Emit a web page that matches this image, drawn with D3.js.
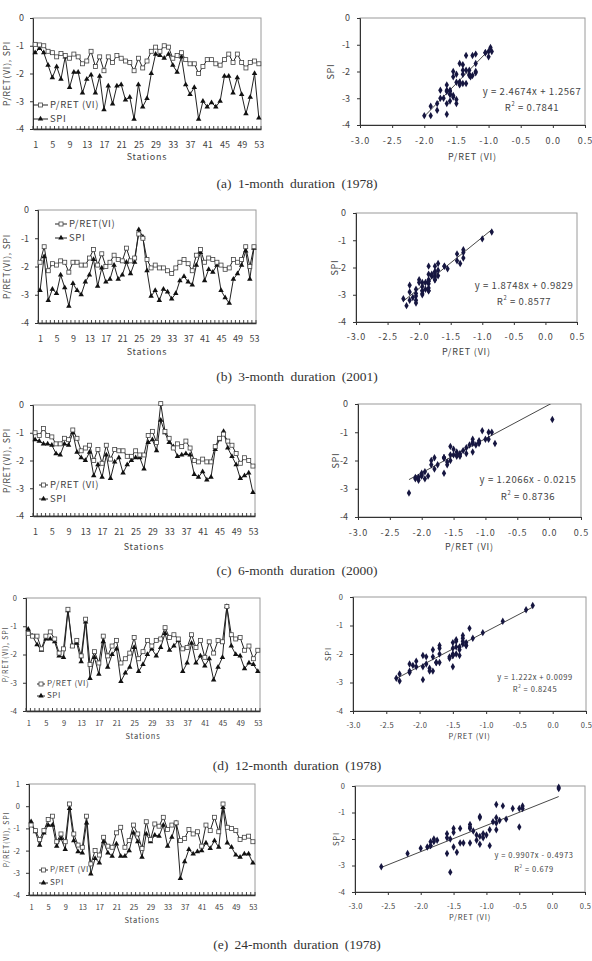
<!DOCTYPE html>
<html><head><meta charset="utf-8">
<script src="https://cdn.jsdelivr.net/npm/d3@7"></script>
<style>
body{margin:0;background:#fff}
svg text{font-family:"Noto Sans CJK KR","DejaVu Sans",sans-serif;fill:#444}
</style>
</head><body>
<svg id="c" width="592" height="961"></svg>
<script>
// ---------------- DATA ----------------
const stations = d3.range(1, 54);
const stationTicks = [1,5,9,13,17,21,25,29,33,37,41,45,49,53];
const yTicksLine = [0,-1,-2,-3,-4];
const yTicksLineE = [1,0,-1,-2,-3,-4];
const xTicksScatter = [-3.0,-2.5,-2.0,-1.5,-1.0,-0.5,0.0,0.5];
const yTicksScatter = [0,-1,-2,-3,-4];

const panelLetters = ["a","b","c","d","e"];
const durations = ["1-month","3-month","6-month","12-month","24-month"];
const years = ["1978","2001","2000","1978","1978"];
const legendPret = ["P/RET (VI)","P/RET(VI)","P/RET (VI)","P/RET (VI)","P/RET (VI)"];
const legendSpi = ["SPI","SPI","SPI","SPI","SPI"];
const slopes = [2.4674, 1.8748, 1.2066, 1.222, 0.9907];
const intercepts = [1.2567, 0.9829, -0.0215, 0.0099, -0.4973];
const rSquared = ["0.7841","0.8577","0.8736","0.8245","0.679"];

const pret1m = [-0.95,-0.97,-1.0,-1.2,-1.25,-1.4,-1.28,-1.35,-1.45,-1.3,
  -1.4,-1.65,-1.55,-1.2,-1.75,-1.4,-1.9,-1.4,-1.6,-1.35,
  -1.45,-1.55,-1.6,-1.9,-1.45,-1.8,-1.55,-1.2,-1.05,-1.2,
  -1.0,-1.05,-1.45,-1.35,-1.25,-1.5,-1.65,-1.65,-2.0,-1.75,
  -1.5,-1.5,-1.65,-1.7,-1.5,-1.3,-1.6,-1.3,-1.6,-1.8,
  -1.6,-1.55,-1.65];
const spi1m = [-1.25,-1.1,-1.25,-1.7,-2.15,-1.75,-2.2,-1.4,-2.5,-1.95,
  -1.95,-2.7,-2.2,-2.05,-2.7,-2.1,-3.3,-2.45,-3.1,-2.45,
  -2.4,-2.95,-2.85,-3.65,-2.4,-3.2,-2.9,-2.0,-1.3,-1.35,
  -1.45,-1.3,-1.7,-1.95,-1.4,-2.4,-2.75,-2.5,-3.65,-3.0,
  -3.2,-3.05,-3.2,-3.0,-2.1,-2.1,-2.7,-2.15,-2.75,-3.45,
  -2.85,-2.0,-3.6];

const pret3m = [-1.85,-1.3,-2.15,-1.9,-1.95,-1.8,-1.85,-2.2,-1.85,-1.85,
  -1.95,-1.95,-1.7,-1.4,-1.95,-1.55,-2.0,-1.85,-1.6,-1.75,
  -1.8,-1.35,-1.8,-1.7,-0.85,-1.0,-1.75,-2.05,-1.95,-2.05,
  -2.05,-2.15,-2.25,-2.05,-1.85,-1.75,-1.9,-2.15,-1.6,-1.4,
  -1.85,-1.7,-1.75,-1.85,-1.95,-2.1,-2.05,-1.75,-1.85,-1.75,
  -1.3,-2.0,-1.3];
const spi3m = [-2.85,-1.65,-3.2,-2.8,-2.95,-2.3,-2.75,-3.4,-2.6,-2.85,
  -3.0,-2.55,-2.3,-1.75,-2.7,-2.05,-2.55,-2.45,-1.95,-2.45,
  -2.3,-1.85,-2.25,-1.85,-0.7,-0.95,-2.15,-3.05,-2.85,-3.2,
  -2.8,-2.9,-3.15,-2.95,-2.5,-2.35,-2.55,-2.65,-1.95,-1.5,
  -2.5,-2.1,-2.2,-1.95,-2.85,-3.1,-3.3,-2.45,-2.25,-1.95,
  -1.45,-2.45,-1.35];

const pret6m = [-1.0,-1.1,-0.85,-1.1,-1.15,-1.4,-1.4,-1.2,-1.25,-0.9,
  -1.2,-1.65,-1.55,-1.45,-2.0,-1.6,-2.1,-1.45,-1.95,-1.6,
  -1.65,-1.65,-1.85,-1.85,-1.65,-1.8,-1.8,-1.1,-0.95,-1.35,
  0.05,-0.95,-1.2,-1.55,-1.4,-1.5,-1.3,-1.55,-2.0,-2.05,
  -1.95,-2.05,-2.05,-1.5,-1.2,-1.05,-1.3,-1.45,-1.75,-2.1,
  -1.9,-2.0,-2.2];
const spi6m = [-1.25,-1.3,-1.4,-1.4,-1.45,-1.75,-1.8,-1.4,-1.45,-1.0,
  -1.7,-1.9,-2.0,-1.7,-2.55,-2.15,-2.6,-1.8,-2.65,-2.05,
  -1.9,-2.45,-2.15,-2.0,-1.9,-1.9,-2.3,-1.35,-1.25,-1.65,
  -0.55,-1.0,-1.35,-1.5,-1.85,-1.8,-1.75,-1.8,-2.5,-2.6,
  -2.4,-2.7,-2.6,-1.6,-1.25,-0.95,-1.55,-1.85,-2.15,-2.65,
  -2.55,-2.45,-3.15];

const pret12m = [-1.25,-1.35,-1.35,-1.8,-1.35,-1.2,-1.45,-1.95,-1.8,-0.4,
  -1.7,-1.5,-2.05,-0.75,-2.35,-1.9,-2.3,-1.35,-2.05,-1.7,
  -1.5,-2.3,-2.15,-1.95,-1.4,-2.15,-1.9,-1.5,-1.7,-1.5,
  -1.45,-1.05,-1.4,-1.3,-1.45,-1.8,-1.75,-1.3,-1.75,-1.5,
  -2.1,-1.55,-1.95,-1.5,-1.55,-0.3,-1.3,-1.45,-1.4,-1.85,
  -1.7,-2.15,-1.85];
const spi12m = [-1.1,-1.35,-1.65,-1.85,-1.45,-1.45,-1.55,-2.05,-2.1,-0.45,
  -1.7,-1.6,-2.25,-0.85,-2.85,-2.1,-2.7,-1.55,-2.45,-2.0,
  -1.8,-2.95,-2.65,-2.45,-1.75,-2.6,-2.35,-2.0,-1.8,-2.05,
  -1.75,-1.25,-1.85,-1.7,-1.5,-2.6,-2.3,-1.6,-2.3,-2.05,
  -2.4,-2.15,-2.9,-2.45,-2.1,-0.3,-1.7,-2.0,-2.05,-2.5,
  -2.3,-2.35,-2.6];

const pret24m = [-0.85,-1.1,-1.5,-1.1,-0.6,-0.45,-1.6,-1.25,-1.6,0.1,
  -1.25,-1.75,-1.85,-0.45,-2.6,-2.0,-2.2,-1.4,-1.8,-1.85,
  -1.2,-0.95,-1.85,-1.55,-0.85,-1.25,-1.9,-0.7,-1.5,-0.8,
  -0.9,-0.5,-1.05,-0.85,-0.75,-1.55,-1.45,-1.05,-1.25,-1.15,
  -1.8,-0.85,-1.1,-0.5,-1.15,0.1,-0.95,-1.0,-1.1,-1.5,
  -1.4,-1.35,-1.6];
const spi24m = [-0.7,-1.15,-1.75,-1.2,-0.85,-0.85,-1.8,-1.45,-1.95,-0.1,
  -1.55,-2.05,-2.1,-0.75,-3.05,-2.35,-2.55,-1.6,-2.1,-2.25,
  -1.7,-2.25,-2.25,-2.0,-1.2,-1.6,-2.3,-1.25,-1.6,-1.3,
  -1.35,-0.85,-1.8,-1.4,-0.75,-3.25,-2.5,-1.95,-2.15,-2.05,
  -2.0,-1.65,-1.9,-1.55,-1.85,-0.05,-1.65,-1.85,-2.2,-2.3,
  -2.15,-2.15,-2.55];

const pretSeries = [pret1m, pret3m, pret6m, pret12m, pret24m];
const spiSeries = [spi1m, spi3m, spi6m, spi12m, spi24m];

// ---------------- LAYOUT ----------------
const layout = [
  {L:33,R:261,T:18,B:129, yDom:[-4,0], yT:yTicksLine, fs:9, lfs:9.5, ylfs:8.5, stY:158, ylabX:8, xPad:13,
   leg:{x0:33,x1:48,tx:50,y1:105,y2:119},
   sc:{L:360,R:585,T:18,B:125, ex:532, ey:92, ry:108, ylabX:332, xlabY:158, efs:9.5, xPad:10, ls:1}, capY:185},
  {L:38,R:256,T:210,B:323, yDom:[-4,0], yT:yTicksLine, fs:9, lfs:9.5, ylfs:8.5, stY:353, ylabX:8, xPad:13,
   leg:{x0:55,x1:67,tx:69,y1:224,y2:238},
   sc:{L:356,R:577,T:213,B:322, ex:524, ey:286, ry:302, ylabX:336, xlabY:353, efs:9.5, xPad:9, ls:1}, capY:378},
  {L:33,R:255,T:405,B:516, yDom:[-4,0], yT:yTicksLine, fs:9, lfs:9.5, ylfs:8.5, stY:548, ylabX:8, xPad:13,
   leg:{x0:39,x1:48,tx:50,y1:485,y2:499},
   sc:{L:358,R:581,T:404,B:517, ex:528, ey:480, ry:497, ylabX:337, xlabY:548, efs:9.5, xPad:10, ls:1}, capY:572},
  {L:26,R:260,T:598,B:711, yDom:[-4,0], yT:yTicksLine, fs:7.5, lfs:8, ylfs:7, stY:737, ylabX:6, xPad:10,
   leg:{x0:37,x1:45,tx:47,y1:684,y2:696},
   sc:{L:353,R:586,T:597,B:711, ex:535, ey:678, ry:690, ylabX:329, xlabY:737, efs:7.5, xPad:9, ls:0.3}, capY:767},
  {L:29,R:255,T:784,B:895, yDom:[-4,1], yT:yTicksLineE, fs:7.5, lfs:8, ylfs:7, stY:921, ylabX:7, xPad:10,
   leg:{x0:39,x1:48,tx:50,y1:870,y2:883},
   sc:{L:355,R:585,T:786,B:892, ex:534, ey:856, ry:870, ylabX:337, xlabY:918, efs:7.5, xPad:9, ls:0.3}, capY:946}
];

const svg = d3.select("#c");
const defs = svg.append("defs");

function styleAxis(ax, fs){
  ax.select(".domain").attr("stroke","#333").attr("stroke-width",1);
  ax.selectAll(".tick line").attr("stroke","#333");
  ax.selectAll("text").attr("font-size",fs).attr("fill","#444");
}

function drawLine(k){
  const p = layout[k], pret = pretSeries[k], spi = spiSeries[k];
  const g = svg.append("g");
  const x = d3.scalePoint().domain(stations).range([p.L,p.R]).padding(0.5);
  const y = d3.scaleLinear().domain(p.yDom).range([p.B,p.T]);
  g.append("rect").attr("x",p.L).attr("y",p.T).attr("width",p.R-p.L).attr("height",p.B-p.T)
    .attr("fill","none").attr("stroke","#9a9a9a").attr("stroke-width",1);
  const ya = g.append("g").attr("transform",`translate(${p.L},0)`)
    .call(d3.axisLeft(y).tickValues(p.yT).tickSize(3).tickPadding(6).tickFormat(d=>String(d)));
  styleAxis(ya, p.fs);
  const xa = g.append("g").attr("transform",`translate(0,${p.B})`)
    .call(d3.axisBottom(x).tickValues(stationTicks).tickSize(0).tickPadding(p.xPad));
  styleAxis(xa, p.fs);
  xa.select(".domain").attr("stroke-width",1.4);
  const st = x.step();
  g.append("g").selectAll("line").data(d3.range(stations.length+1)).join("line")
    .attr("x1",i=>x(stations[0])-st/2+i*st).attr("x2",i=>x(stations[0])-st/2+i*st)
    .attr("y1",p.B).attr("y2",p.B-3).attr("stroke","#333").attr("stroke-width",0.9);
  g.append("text").attr("x",(p.L+p.R)/2).attr("y",p.stY).attr("text-anchor","middle")
    .attr("dominant-baseline","middle").attr("font-size",p.fs).attr("letter-spacing",0.8).text("Stations");
  g.append("text").attr("transform",`translate(${p.ylabX},${(p.T+p.B)/2}) rotate(-90)`)
    .attr("text-anchor","middle").attr("dominant-baseline","middle")
    .attr("font-size",p.ylfs).attr("letter-spacing",0.8).text("P/RET(VI), SPI");
  const line = d3.line().x((d,i)=>x(stations[i])).y(d=>y(d));
  g.append("path").attr("d",line(spi)).attr("fill","none").attr("stroke","#222").attr("stroke-width",1);
  g.append("path").attr("d",line(pret)).attr("fill","none").attr("stroke","#222").attr("stroke-width",1);
  const tri = d3.symbol(d3.symbolTriangle, 13)();
  g.append("g").selectAll("path").data(spi).join("path")
    .attr("transform",(d,i)=>`translate(${x(stations[i])},${y(d)})`).attr("d",tri).attr("fill","#111");
  g.append("g").selectAll("rect").data(pret).join("rect")
    .attr("x",(d,i)=>x(stations[i])-2).attr("y",d=>y(d)-2).attr("width",4).attr("height",4)
    .attr("fill","#fff").attr("stroke","#444").attr("stroke-width",0.8);
  const lg = g.append("g");
  const lm = (p.leg.x0+p.leg.x1)/2;
  lg.append("line").attr("x1",p.leg.x0).attr("x2",p.leg.x1).attr("y1",p.leg.y1).attr("y2",p.leg.y1).attr("stroke","#222");
  lg.append("rect").attr("x",lm-2).attr("y",p.leg.y1-2).attr("width",4).attr("height",4).attr("fill","#fff").attr("stroke","#444").attr("stroke-width",0.8);
  lg.append("text").attr("x",p.leg.tx).attr("y",p.leg.y1).attr("dominant-baseline","middle")
    .attr("font-size",p.lfs).attr("letter-spacing",0.6).text(legendPret[k]);
  lg.append("line").attr("x1",p.leg.x0).attr("x2",p.leg.x1).attr("y1",p.leg.y2).attr("y2",p.leg.y2).attr("stroke","#222");
  lg.append("path").attr("transform",`translate(${lm},${p.leg.y2})`).attr("d",tri).attr("fill","#111");
  lg.append("text").attr("x",p.leg.tx).attr("y",p.leg.y2).attr("dominant-baseline","middle")
    .attr("font-size",p.lfs).attr("letter-spacing",0.6).text(legendSpi[k]);
}

function drawScatter(k){
  const p = layout[k], s = p.sc, pret = pretSeries[k], spi = spiSeries[k];
  const g = svg.append("g");
  const x = d3.scaleLinear().domain([-3,0.5]).range([s.L,s.R]);
  const y = d3.scaleLinear().domain([-4,0]).range([s.B,s.T]);
  g.append("rect").attr("x",s.L).attr("y",s.T).attr("width",s.R-s.L).attr("height",s.B-s.T)
    .attr("fill","none").attr("stroke","#9a9a9a").attr("stroke-width",1);
  const ya = g.append("g").attr("transform",`translate(${s.L},0)`)
    .call(d3.axisLeft(y).tickValues(yTicksScatter).tickSize(3).tickPadding(7).tickFormat(d=>String(d)));
  styleAxis(ya, p.fs);
  const xa = g.append("g").attr("transform",`translate(0,${s.B})`)
    .call(d3.axisBottom(x).tickValues(xTicksScatter).tickSize(3).tickPadding(s.xPad).tickFormat(d=>d.toFixed(1)));
  styleAxis(xa, p.fs);
  xa.selectAll("text").attr("letter-spacing",s.ls);
  g.append("text").attr("x",(s.L+s.R)/2).attr("y",s.xlabY).attr("text-anchor","middle")
    .attr("dominant-baseline","middle").attr("font-size",p.fs).attr("letter-spacing",0.8).text("P/RET (VI)");
  g.append("text").attr("transform",`translate(${s.ylabX},${(s.T+s.B)/2}) rotate(-90)`)
    .attr("text-anchor","middle").attr("dominant-baseline","middle")
    .attr("font-size",p.fs).attr("letter-spacing",0.8).text("SPI");
  const cid = "clip"+k;
  defs.append("clipPath").attr("id",cid).append("rect")
    .attr("x",s.L).attr("y",s.T).attr("width",s.R-s.L).attr("height",s.B-s.T);
  const pts = pret.map((v,i)=>[v, spi[i]]);
  const ext = d3.extent(pret);
  const a = slopes[k], b = intercepts[k];
  const reg = ext.map(v=>[v, a*v+b]);
  g.append("path").attr("clip-path",`url(#${cid})`)
    .attr("d",d3.line().x(d=>x(d[0])).y(d=>y(d[1]))(reg))
    .attr("stroke","#333").attr("stroke-width",0.9).attr("fill","none");
  const dia = d3.symbol(d3.symbolDiamond, 16)();
  g.append("g").selectAll("path").data(pts).join("path")
    .attr("transform",d=>`translate(${x(d[0])},${y(d[1])})`).attr("d",dia).attr("fill","#161640");
  const eq = `y = ${a}x ${b<0?"-":"+"} ${Math.abs(b)}`;
  g.append("text").attr("x",s.ex).attr("y",s.ey).attr("text-anchor","middle").attr("dominant-baseline","middle")
    .attr("font-size",s.efs).attr("letter-spacing",0.6).text(eq);
  const rt = g.append("text").attr("x",s.ex).attr("y",s.ry).attr("text-anchor","middle").attr("dominant-baseline","middle")
    .attr("font-size",s.efs).attr("letter-spacing",0.6);
  rt.append("tspan").text("R");
  rt.append("tspan").attr("font-size",s.efs*0.6).attr("dy",-s.efs*0.4).text("2");
  rt.append("tspan").attr("dy",s.efs*0.4).text(` = ${rSquared[k]}`);
}

function drawCaption(k){
  svg.append("text").attr("x",297).attr("y",layout[k].capY).attr("text-anchor","middle")
    .attr("dominant-baseline","middle").attr("font-size",13.5).attr("word-spacing",3)
    .style("font-family",'"Liberation Serif","DejaVu Serif",serif').style("fill","#333")
    .text(`(${panelLetters[k]}) ${durations[k]} duration (${years[k]})`);
}

for (let k=0;k<5;k++){ drawLine(k); drawScatter(k); drawCaption(k); }
</script>
</body></html>
